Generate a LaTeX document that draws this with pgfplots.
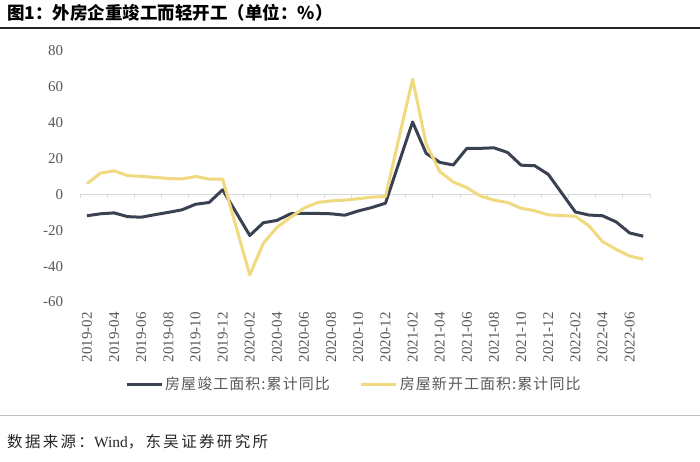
\documentclass[border=0pt]{standalone}
\usepackage{pgfplots}
\pgfplotsset{compat=1.18}
\usepackage{fontspec}
\setmainfont{Liberation Serif}
\newfontfamily\cjk[LetterSpace=15]{Noto Sans CJK SC}
\newfontfamily\cjkleg[LetterSpace=7]{Noto Sans CJK SC}
\newfontfamily\cjktitle{Noto Sans CJK SC}

\definecolor{navy}{RGB}{58,66,82}
\definecolor{gold}{RGB}{240,217,126}
\definecolor{ticktxt}{RGB}{89,89,89}
\definecolor{zeroline}{RGB}{217,217,217}

% month index: 0 = 2019-02 ... 41 = 2022-07 (January values not published)
\pgfplotstableread{
x   y
0  -11.9
1  -10.8
2  -10.3
3  -12.4
4  -12.7
5  -11.3
6  -10.0
7  -8.6
8  -5.5
9  -4.5
10  2.6
12 -22.9
13 -15.8
14 -14.5
15 -10.8
16 -10.5
17 -10.6
18 -10.8
19 -11.6
20 -9.2
21 -7.3
22 -4.9
24  40.4
25  22.9
26  17.9
27  16.4
28  25.7
29  25.7
30  26.0
31  23.4
32  16.3
33  16.0
34  11.2
36 -9.8
37 -11.5
38 -11.9
39 -15.3
40 -21.5
41 -23.3
}\completion

\pgfplotstableread{
x   y
0   6.0
1   11.9
2   13.1
3   10.5
4   10.1
5   9.5
6   8.9
7   8.6
8   10.0
9   8.6
10  8.5
12 -44.9
13 -27.2
14 -18.4
15 -12.8
16 -7.6
17 -4.5
18 -3.6
19 -3.2
20 -2.4
21 -1.5
22 -1.2
24  64.3
25  28.2
26  12.8
27  6.9
28  3.8
29 -0.9
30 -3.2
31 -4.5
32 -7.7
33 -9.1
34 -11.4
36 -12.2
37 -17.5
38 -26.3
39 -30.6
40 -34.4
41 -36.1
}\newstarts

\begin{document}
\begin{tikzpicture}
\useasboundingbox (0pt,0pt) rectangle (700pt,461pt);
\node[anchor=west, inner sep=0pt] at (7pt,448pt)
  {\fontsize{17.5}{17.5}\selectfont\cjktitle\bfseries 图1：外房企重竣工而轻开工（单位：\%）};
\draw[line width=2pt, black!85] (0pt,433pt) -- (700pt,433pt);
\draw[line width=0.8pt, black!25] (0pt,46pt) -- (700pt,46pt);
\node[anchor=west, inner sep=0pt, text=black!85] at (7pt,19.5pt)
  {\fontsize{15.5}{15.5}\selectfont{\cjk 数据来源：}Wind{\cjk ，东吴证券研究所}};

\begin{axis}[
    at={(80.2pt,159pt)}, anchor=south west,
    scale only axis, width=569.8pt, height=251pt,
    xmin=-0.5, xmax=41.5, ymin=-60, ymax=80,
    axis line style={draw=none},
    major tick length=0pt,
    clip=false,
    xtick={0,2,...,40},
    xticklabels={2019-02,2019-04,2019-06,2019-08,2019-10,2019-12,
                 2020-02,2020-04,2020-06,2020-08,2020-10,2020-12,
                 2021-02,2021-04,2021-06,2021-08,2021-10,2021-12,
                 2022-02,2022-04,2022-06},
    xticklabel shift=10pt,
    xticklabel style={rotate=90, anchor=east, inner sep=0pt,
                      font=\fontsize{15}{15}\selectfont, text=ticktxt},
    ytick={-60,-40,-20,0,20,40,60,80},
    yticklabels={-60,-40,-20,0,20,40,60,80},
    yticklabel shift=17pt,
    yticklabel style={anchor=east, inner sep=0pt,
                      font=\fontsize{15}{15}\selectfont, text=ticktxt},
    legend style={at={(0.0786,-0.3267)}, anchor=west, draw=none, fill=none,
                  legend columns=2, inner sep=0pt,
                  font=\fontsize{15}{15}\selectfont\cjkleg, text=ticktxt,
                  /tikz/every even column/.append style={column sep=28pt}},
    legend image code/.code={\draw[#1] (0pt,0pt) -- (35pt,0pt);},
]
\draw[zeroline, line width=1pt] (axis cs:-0.5,0) -- (axis cs:41.5,0);
\pgfplotsinvokeforeach{0,...,21}{
  \draw[zeroline, line width=1pt] (axis cs:2*#1-0.5,0) -- ++(0pt,-4pt);
}
\addplot[navy, line width=3pt, line join=round] table[x=x, y=y] {\completion};
\addlegendentry{房屋竣工面积:累计同比}
\addplot[gold, line width=3pt, line join=round] table[x=x, y=y] {\newstarts};
\addlegendentry{房屋新开工面积:累计同比}
\end{axis}
\end{tikzpicture}
\end{document}
